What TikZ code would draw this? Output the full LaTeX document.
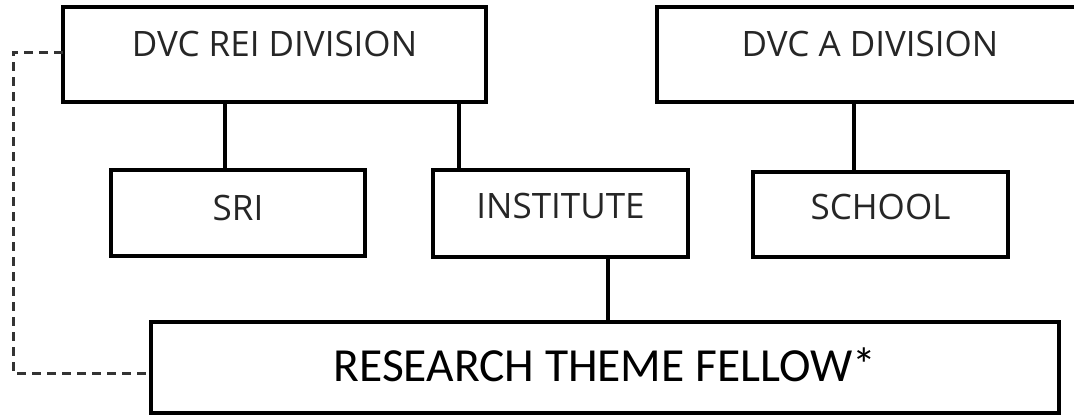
\documentclass[tikz,border=0pt]{standalone}
\usepackage{fontspec}
\newfontfamily\topfont{Open Sans}
\newfontfamily\rtffont{Carlito}
\begin{document}
\begin{tikzpicture}[x=1pt,y=-1pt,
  box/.style={draw=black,line width=3.5pt,rectangle,inner sep=0pt,outer sep=0pt,fill=white},
  toplabel/.style={box,font=\topfont\fontsize{35}{40}\selectfont,text height=25pt,text=black!85},
  conn/.style={draw=black,line width=3.5pt},
  dashline/.style={draw=black!80,line width=3pt,dash pattern=on 9pt off 6pt}]
\useasboundingbox (0,0) rectangle (1074,416);
\clip (0,0) rectangle (1074,416);
\node[toplabel,text depth=22pt,minimum width=423pt,minimum height=95pt] (rei) at (274.5,54.5) {DVC REI DIVISION};
\node[toplabel,text depth=22pt,minimum width=426pt,minimum height=95pt] (dvca) at (870,54.5) {DVC A DIVISION};
\node[toplabel,text depth=11pt,minimum width=254pt,minimum height=86pt] (sri) at (238,213) {SRI};
\node[toplabel,text depth=15pt,minimum width=255pt,minimum height=87pt] (inst) at (560.5,213.5) {INSTITUTE};
\node[toplabel,text depth=15pt,minimum width=255pt,minimum height=85pt] (school) at (880.5,214.5) {SCHOOL};
\node[box,font=\rtffont\fontsize{47.5}{52}\selectfont,text height=30pt,text depth=2pt,minimum width=908pt,minimum height=91pt] (rtf) at (605,367.5) {RESEARCH THEME FELLOW*};
\coordinate (c1) at (225,0);
\coordinate (c2) at (459,0);
\coordinate (c3) at (854,0);
\coordinate (c4) at (608,0);
\coordinate (dl) at (13,0);
\draw[conn] (rei.south -| c1) -- (sri.north -| c1);
\draw[conn] (rei.south -| c2) -- (inst.north -| c2);
\draw[conn] (dvca.south -| c3) -- (school.north -| c3);
\draw[conn] (inst.south -| c4) -- (rtf.north -| c4);
\draw[dashline] ([yshift=2.5pt]rei.west) -- ([yshift=2.5pt]rei.west -| dl) -- ([yshift=-5.5pt]rtf.west -| dl) -- ([yshift=-5.5pt]rtf.west);
\end{tikzpicture}
\end{document}
